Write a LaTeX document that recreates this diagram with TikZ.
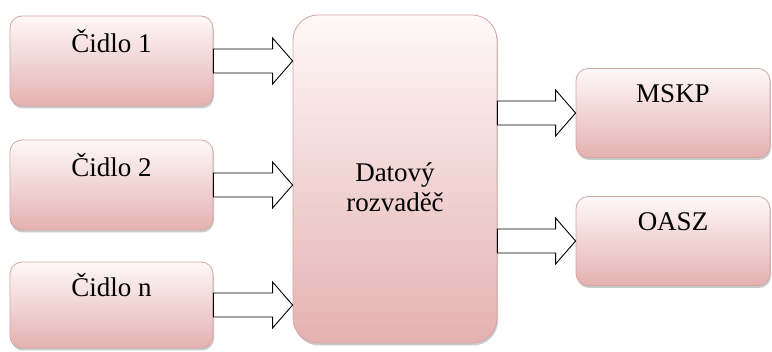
\documentclass[tikz,border=0pt]{standalone}
\usepackage{fontspec}
\setmainfont{Liberation Serif}
\usetikzlibrary{calc,shadows}

\definecolor{boxtop}{RGB}{254,248,248}
\definecolor{boxbot}{RGB}{229,177,177}
\definecolor{boxline}{RGB}{212,166,166}

\tikzset{
	blok/.style={draw=boxline, line width=0.8pt, top color=boxtop, bottom color=boxbot,
		rounded corners=12pt, inner sep=0pt, font=\rmfamily\fontsize{27}{30}\selectfont,
		drop shadow={shadow xshift=1pt, shadow yshift=-2.5pt, opacity=0.35, fill=black!60}},
	cidlo/.style={blok, minimum width=203pt, minimum height=90pt, text height=18pt, text depth=34pt},
	vystup/.style={blok, minimum width=194pt, minimum height=89pt, text height=18pt, text depth=38pt},
	sipka/.style={draw=black, fill=white, line width=0.9pt, line join=miter}
}

% tlusta sipka z #1 do #2
\newcommand{\sipkadat}[2]{%
	\draw[sipka] let \p1=(#1), \p2=(#2) in
		(\x1,\y1+12pt) -- (\x2-20pt,\y1+12pt) -- (\x2-20pt,\y1+23pt) -- (\x2,\y1)
		-- (\x2-20pt,\y1-23pt) -- (\x2-20pt,\y1-12pt) -- (\x1,\y1-12pt) -- cycle;}

\begin{document}
\begin{tikzpicture}[x=1pt,y=-1pt]
	\useasboundingbox (0,0) rectangle (772,352);

	\node[cidlo] (c1) at (111.5,61) {Čidlo 1};
	\node[cidlo] (c2) at (111.5,185) {Čidlo 2};
	\node[cidlo, minimum height=86pt] (cn) at (111.5,305) {Čidlo n};

	\node[blok, rounded corners=25pt, minimum width=204pt, minimum height=328pt] (dr) at (395,179)
		{\parbox{190pt}{\centering\vspace*{16pt}Datový\\rozvaděč}};

	\node[vystup] (ms) at (673,113) {MSKP};
	\node[vystup] (oa) at (673,241) {OASZ};

	\sipkadat{c1.east}{dr.west |- c1.east}
	\sipkadat{c2.east}{dr.west |- c2.east}
	\sipkadat{cn.east}{dr.west |- cn.east}
	\sipkadat{dr.east |- ms.west}{ms.west}
	\sipkadat{dr.east |- oa.west}{oa.west}
\end{tikzpicture}
\end{document}
